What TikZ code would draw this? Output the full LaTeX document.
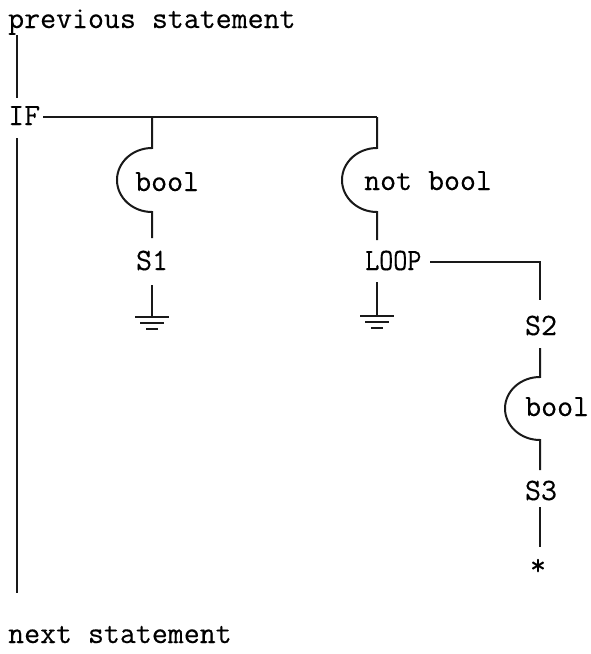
\documentclass[tikz,border=0pt]{standalone}
\usepackage{fontspec}
\setmonofont{Latin Modern Mono}[FakeBold=0.3]
\begin{document}
\begin{tikzpicture}[x=1pt,y=-1pt,
  txt/.style={inner sep=0pt,font=\ttfamily\fontsize{31}{34}\selectfont},
  flow/.style={line width=2pt,draw=black!90},
  spine/.style={line width=2.8pt,draw=black!90},
  earth/.style={line width=1.7pt,draw=black!90}]
\useasboundingbox (0,0) rectangle (591,654);

% statements and labels
\node[txt,anchor=base west] (prev) at (8,28) {previous statement};
\node[txt,anchor=base west] (if) at (8,125) {IF};
\node[txt,anchor=base west] (b1) at (135,191) {bool};
\node[txt,anchor=base west] (nb) at (364,190) {not bool};
\node[txt,anchor=base] (s1) at (152,270) {S1};
\node[txt,anchor=base west] (loop) at (365,270) {\scalebox{0.88}[1]{LOOP}};
\node[txt,anchor=base] (s2) at (541,335) {S2};
\node[txt,anchor=base west] (b3) at (525,416) {bool};
\node[txt,anchor=base] (s3) at (541,500) {S3};
\node[txt,anchor=base] (star) at (538,575) {*};
\node[txt,anchor=base west] (next) at (8,643) {next statement};

% connection points
\coordinate (spA) at (17,35);
\coordinate (spB) at (17,98);
\coordinate (spC) at (17,138);
\coordinate (spD) at (17,593);
\coordinate (ifR) at (43,117);
\coordinate (j1) at (152,117);
\coordinate (j2) at (377,117);
\coordinate (a1) at (152,148);
\coordinate (e1) at (152,238);
\coordinate (g1) at (152,285);
\coordinate (a2) at (377,148);
\coordinate (e2) at (377,240);
\coordinate (g2) at (377,282);
\coordinate (lpR) at (430,262);
\coordinate (lpC) at (540,262);
\coordinate (lpD) at (540,300);
\coordinate (s2d) at (540,348);
\coordinate (a3) at (540,377);
\coordinate (e3) at (540,470);
\coordinate (s3d) at (540,507);
\coordinate (s3e) at (540,547);

% main spine
\draw[spine] (spA) -- (spB);
\draw[spine] (spC) -- (spD);

% IF branches, each guarded by a condition bracket
\draw[flow] (ifR) -- (j2);
\draw[flow] (j1) -- (a1) arc[start angle=-90,end angle=-270,x radius=35,y radius=32] -- (e1);
\draw[flow] (j2) -- (a2) arc[start angle=-90,end angle=-270,x radius=35,y radius=32] -- (e2);

% grounds
\draw[flow] (g1) -- ++(0,32);
\draw[earth] ([xshift=-17pt,yshift=-32pt]g1) -- ++(34,0);
\draw[earth] ([xshift=-12pt,yshift=-38pt]g1) -- ++(24,0);
\draw[earth] ([xshift=-6pt,yshift=-44pt]g1) -- ++(12,0);
\draw[flow] (g2) -- ++(0,34);
\draw[earth] ([xshift=-17pt,yshift=-34pt]g2) -- ++(34,0);
\draw[earth] ([xshift=-12pt,yshift=-40pt]g2) -- ++(24,0);
\draw[earth] ([xshift=-6pt,yshift=-46pt]g2) -- ++(12,0);

% loop body
\draw[flow] (lpR) -- (lpC) -- (lpD);
\draw[flow] (s2d) -- (a3) arc[start angle=-90,end angle=-270,x radius=35,y radius=31.5] -- (e3);
\draw[flow] (s3d) -- (s3e);
\end{tikzpicture}
\end{document}
